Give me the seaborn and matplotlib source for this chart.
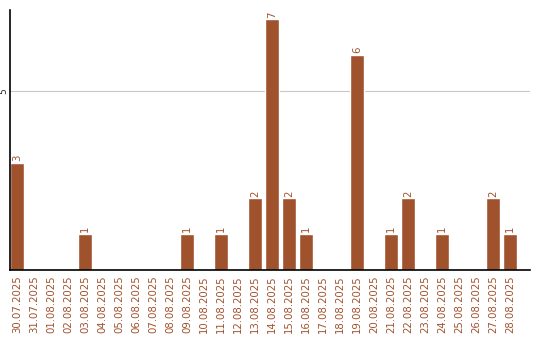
import matplotlib
matplotlib.use("Agg")
import matplotlib.pyplot as plt
import seaborn as sns
import pandas as pd

dates = ["30.07.2025", "31.07.2025", "01.08.2025", "02.08.2025", "03.08.2025", "04.08.2025",
         "05.08.2025", "06.08.2025", "07.08.2025", "08.08.2025", "09.08.2025", "10.08.2025",
         "11.08.2025", "12.08.2025", "13.08.2025", "14.08.2025", "15.08.2025", "16.08.2025",
         "17.08.2025", "18.08.2025", "19.08.2025", "20.08.2025", "21.08.2025", "22.08.2025",
         "23.08.2025", "24.08.2025", "25.08.2025", "26.08.2025", "27.08.2025", "28.08.2025"]
counts = [3, 0, 0, 0, 1, 0, 0, 0, 0, 0, 1, 0, 1, 0, 2, 7, 2, 1, 0, 0, 6, 0, 1, 2, 0, 1, 0, 0, 2, 1]

color = "#A0522D"
sns.set_style("white")
plt.rcParams['font.family'] = ['DejaVu Sans']

df = pd.DataFrame({"date": dates, "count": counts})
fig = plt.figure(figsize=(5.4, 3.4), dpi=100)
ax = fig.add_axes([10/540, 70/340, 520/540, 260/340])
sns.barplot(data=df, x="date", y="count", color=color, saturation=1, width=0.82, ax=ax)
ax.set_xlim(-0.41, -0.41 + 520/17)
ax.set_ylim(0, 7.26)
ax.set_xlabel("")
ax.set_ylabel("")
ax.set_yticks([5])
ax.set_yticklabels(["5"], rotation=90, va="center", fontsize=6.5)
ax.tick_params(axis="y", length=0, pad=1.5)
ax.tick_params(axis="x", length=0, pad=4, labelsize=7.3, labelcolor=color, labelrotation=90)
ax.axhline(5, color="#c8c8c8", lw=0.8, zorder=0)
for s in ["top", "right"]:
    ax.spines[s].set_visible(False)
for s in ["left", "bottom"]:
    ax.spines[s].set_color("black")
    ax.spines[s].set_linewidth(1.2)
for i, v in enumerate(counts):
    if v > 0:
        ax.text(i, v + 0.05, str(v), rotation=90, ha="center", va="bottom", fontsize=7.3, color=color)
fig.savefig("out.png", dpi=100)
